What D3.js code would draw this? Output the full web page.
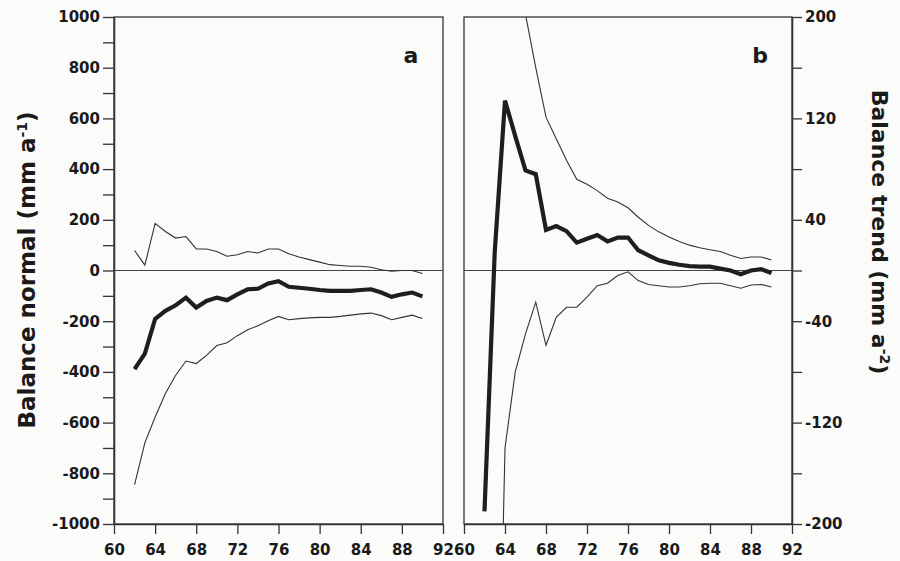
<!DOCTYPE html>
<html>
<head>
<meta charset="utf-8">
<script src="https://cdn.jsdelivr.net/npm/d3@7"></script>
<style>
    body { margin: 0; background: #fbfbfa; }
    svg { display: block; }
    .tick text { font-family: "DejaVu Sans", sans-serif; font-weight: bold; font-size: 15px; fill: #1a1a1a; }
    .domain, .tick line { stroke: #333; stroke-width: 1.3; }
</style>
</head>
<body>
<div id="chart"></div>
<script>
const width = 900;
const height = 561;

// years of record, 1962-1990
const years = [62, 63, 64, 65, 66, 67, 68, 69, 70, 71, 72, 73, 74, 75, 76, 77, 78, 79, 80, 81, 82, 83, 84, 85, 86, 87, 88, 89, 90];

// panel a: balance normal (mm a-1)
const normalMean = [-389, -328, -191, -159, -137, -107, -146, -120, -107, -117, -94, -74, -72, -51, -42, -64, -68, -72, -77, -80, -80, -80, -77, -74, -87, -104, -94, -87, -102];
const normalUpper = [79, 21, 186, 154, 128, 134, 85, 85, 75, 56, 62, 75, 69, 85, 85, 66, 53, 43, 33, 23, 20, 17, 17, 13, 3, -3, 0, 0, -12];
const normalLower = [-845, -680, -578, -485, -413, -357, -367, -335, -296, -285, -257, -234, -218, -198, -181, -194, -190, -187, -185, -185, -181, -176, -171, -168, -178, -194, -185, -176, -189];

// panel b: balance trend (mm a-2)
const trendMean = [-190, 15, 134, 106, 79, 76, 32, 35, 31, 22, 25, 28, 23, 26, 26, 16, 12, 8, 6, 4.5, 3.5, 3, 3, 1.5, 0, -3, 0, 1, -2];
const trendUpper = [1100, 700, 420, 290, 202, 160, 121, 104, 87, 72, 68, 63, 57, 54, 49.5, 42, 35.6, 30.5, 26.5, 22.8, 20, 18, 16.4, 15, 12, 9.5, 10.7, 10.7, 8.3];
const trendLower = [-900, -500, -140, -80, -50, -25, -59, -37, -29, -29, -21, -12, -10, -4, -1, -8, -11, -12, -13, -13, -12, -10.5, -10, -10, -12, -14, -11.5, -11, -13];

const xTicks = [60, 64, 68, 72, 76, 80, 84, 88, 92];
const normalTicks = [1000, 800, 600, 400, 200, 0, -200, -400, -600, -800, -1000];
const normalMinor = [900, 700, 500, 300, 100, -100, -300, -500, -700, -900];
const trendTicks = [200, 120, 40, -40, -120, -200];
const trendMinor = [160, 80, 0, -80, -160];

const plotTop = 17;
const plotBottom = 524;

// plain labels: no thousands comma, ascii hyphen for minus
const plain = d => String(d);

const svg = d3.select('#chart')
    .append('svg')
    .attr('width', width)
    .attr('height', height);

function panel(id, x0, x1, yDomain, mean, upper, lower, label) {
    const x = d3.scaleLinear().domain([60, 92]).range([x0, x1]);
    const y = d3.scaleLinear().domain(yDomain).range([plotBottom, plotTop]);

    const g = svg.append('g');

    g.append('clipPath')
        .attr('id', 'clip-' + id)
        .append('rect')
        .attr('x', x0)
        .attr('y', plotTop)
        .attr('width', x1 - x0)
        .attr('height', plotBottom - plotTop);

    // frame
    g.append('rect')
        .attr('x', x0)
        .attr('y', plotTop)
        .attr('width', x1 - x0)
        .attr('height', plotBottom - plotTop)
        .style('fill', 'none')
        .style('stroke', '#333')
        .style('stroke-width', 1.3);

    // zero line
    g.append('line')
        .attr('x1', x0)
        .attr('x2', x1)
        .attr('y1', y(0))
        .attr('y2', y(0))
        .style('stroke', '#444')
        .style('stroke-width', 1.1);

    const line = d3.line()
        .x((d, i) => x(years[i]))
        .y(d => y(d));

    const lines = g.append('g').attr('clip-path', `url(#clip-${id})`);

    [upper, lower].forEach(s => {
        lines.append('path')
            .attr('d', line(s))
            .style('fill', 'none')
            .style('stroke', '#333')
            .style('stroke-width', 1.1);
    });

    lines.append('path')
        .attr('d', line(mean))
        .style('fill', 'none')
        .style('stroke', '#1e1e1e')
        .style('stroke-width', 4.2)
        .style('stroke-linejoin', 'miter');

    // bottom axis
    g.append('g')
        .attr('transform', `translate(0,${plotBottom})`)
        .call(d3.axisBottom(x).tickValues(xTicks).tickFormat(plain).tickSize(10).tickPadding(10).tickSizeOuter(0));

    // panel letter
    g.append('text')
        .attr('x', x1 - 32)
        .attr('y', 63)
        .attr('text-anchor', 'middle')
        .style('font-family', '"DejaVu Sans", sans-serif')
        .style('font-weight', 'bold')
        .style('font-size', '22px')
        .style('fill', '#1a1a1a')
        .text(label);

    return { x, y, g };
}

const a = panel('a', 114, 443, [-1000, 1000], normalMean, normalUpper, normalLower, 'a');
const b = panel('b', 464, 792, [-200, 200], trendMean, trendUpper, trendLower, 'b');

// left axis (panel a)
a.g.append('g')
    .attr('transform', 'translate(114,0)')
    .call(d3.axisLeft(a.y).tickValues(normalTicks).tickFormat(plain).tickSize(11).tickPadding(3).tickSizeOuter(0));
a.g.append('g')
    .attr('transform', 'translate(114,0)')
    .call(d3.axisLeft(a.y).tickValues(normalMinor).tickSize(11).tickFormat('').tickSizeOuter(0));

// right axis (panel b)
b.g.append('g')
    .attr('transform', 'translate(792,0)')
    .call(d3.axisRight(b.y).tickValues(trendTicks).tickFormat(plain).tickSize(10).tickPadding(3).tickSizeOuter(0));
b.g.append('g')
    .attr('transform', 'translate(792,0)')
    .call(d3.axisRight(b.y).tickValues(trendMinor).tickSize(10).tickFormat('').tickSizeOuter(0));

// axis titles
const titleA = svg.append('text')
    .attr('transform', 'translate(35,270) rotate(-90)')
    .attr('text-anchor', 'middle')
    .style('font-family', '"DejaVu Sans", sans-serif')
    .style('font-weight', 'bold')
    .style('font-size', '23px')
    .style('fill', '#1a1a1a');
titleA.append('tspan').text('Balance normal (mm a');
titleA.append('tspan').attr('dy', -8).style('font-size', '14px').text('-1');
titleA.append('tspan').attr('dy', 8).text(')');

const titleB = svg.append('text')
    .attr('transform', 'translate(872,232) rotate(90)')
    .attr('text-anchor', 'middle')
    .style('font-family', '"DejaVu Sans", sans-serif')
    .style('font-weight', 'bold')
    .style('font-size', '22px')
    .style('fill', '#1a1a1a');
titleB.append('tspan').text('Balance trend (mm a');
titleB.append('tspan').attr('dy', -8).style('font-size', '14px').text('-2');
titleB.append('tspan').attr('dy', 8).text(')');
</script>
</body>
</html>
